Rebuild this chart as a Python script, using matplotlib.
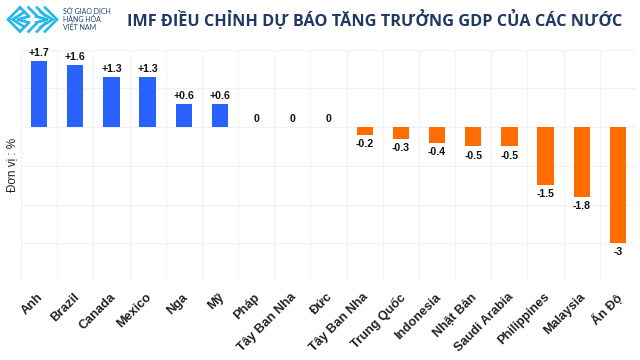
#!/usr/bin/env python3

import matplotlib
matplotlib.use("Agg")
import matplotlib.pyplot as plt

COUNTRIES = ["Anh", "Brazil", "Canada", "Mexico", "Nga", "Mỹ", "Pháp", "Tây Ban Nha", "Đức",
             "Tây Ban Nha", "Trung Quốc", "Indonesia", "Nhật Bản", "Saudi Arabia",
             "Philippines", "Malaysia", "Ấn Độ"]
VALUES = [1.7, 1.6, 1.3, 1.3, 0.6, 0.6, 0, 0, 0, -0.2, -0.3, -0.4, -0.5, -0.5, -1.5, -1.8, -3]
LABELS = ["+1.7", "+1.6", "+1.3", "+1.3", "+0.6", "+0.6", "0", "0", "0",
          "-0.2", "-0.3", "-0.4", "-0.5", "-0.5", "-1.5", "-1.8", "-3"]

W, H = 640, 360
BLUE = "#2962ff"
ORANGE = "#ff6d00"
CYAN = "#22b8ee"
NAVY = "#1f3864"

plt.rcParams["font.family"] = ["Liberation Sans", "DejaVu Sans"]

fig = plt.figure(figsize=(W / 100, H / 100), dpi=100)
ax = fig.add_axes([21 / W, 1 - 282 / H, 615 / W, 232.5 / H])

colors = [BLUE if v > 0 else ORANGE for v in VALUES]
xs = list(range(len(VALUES)))
ax.bar(xs, VALUES, width=0.45, color=colors, zorder=3)

for x, v, lab in zip(xs, VALUES, LABELS):
    if v >= 0:
        ax.annotate(lab, (x, v), xytext=(0, 2), textcoords="offset points", ha="center", va="bottom",
                    fontsize=7.6, fontweight="bold", color="#111111", zorder=4)
    else:
        ax.annotate(lab, (x, v), xytext=(0, -3), textcoords="offset points", ha="center", va="top",
                    fontsize=7.6, fontweight="bold", color="#111111", zorder=4)

ax.set_xlim(-0.5, len(VALUES) - 0.5)
ax.set_ylim(-4, 2)
ax.set_yticks([-4, -3, -2, -1, 0, 1, 2])
ax.set_xticks([i - 0.5 for i in range(len(VALUES) + 1)])
ax.tick_params(length=0, labelleft=False, labelbottom=False)
ax.grid(True, color="#f2f2f4", linewidth=0.8, zorder=0)
for s in ax.spines.values():
    s.set_visible(False)

# rotated category labels, right end under each bar
for x, name in zip(xs, COUNTRIES):
    ax.annotate(name, (x, -4), xytext=(-1.5, -6.5), textcoords="offset points", rotation=45,
                rotation_mode="anchor", ha="right", va="top", fontsize=9.2, fontweight="bold",
                color="#222222")

fig.text(12 / W, 1 - 165 / H, "Đơn vị : %", rotation=90, ha="center", va="center",
         fontsize=8.4, color="#222222")

fig.text(127 / W, 1 - 20 / H, "IMF ĐIỀU CHỈNH DỰ BÁO TĂNG TRƯỞNG GDP CỦA CÁC NƯỚC",
         fontsize=11.7, fontweight="bold", color=NAVY, family=["Open Sans", "DejaVu Sans"],
         ha="left", va="center")

for y, line in zip([11, 19, 27], ["SỞ GIAO DỊCH", "HÀNG HÓA", "VIỆT NAM"]):
    fig.text(63 / W, 1 - y / H, line, fontsize=5.0, color="#1f3f77", ha="left", va="center",
             family=["Lato", "DejaVu Sans"])

# logo: rough maze of nested chevrons
logo = fig.add_axes([0, 0, 1, 1], facecolor="none")
logo.set_xlim(0, W)
logo.set_ylim(H, 0)
logo.axis("off")
cy = 19.5
for off in [0, 4.5, 9]:
    logo.plot([20 + off, 8 + off, 20 + off], [cy - 12 + off, cy, cy + 12 - off], color=CYAN, lw=1.9,
              solid_joinstyle="miter")
    logo.plot([45 - off, 57 - off, 45 - off], [cy - 12 + off, cy, cy + 12 - off], color=CYAN, lw=1.9,
              solid_joinstyle="miter")
for x0 in [20, 28.5, 37]:
    logo.plot([x0, x0 + 8], [cy - 12, cy - 4], color=CYAN, lw=1.9)
    logo.plot([x0, x0 + 8], [cy + 12, cy + 4], color=CYAN, lw=1.9)

fig.savefig("out.png", dpi=100)
